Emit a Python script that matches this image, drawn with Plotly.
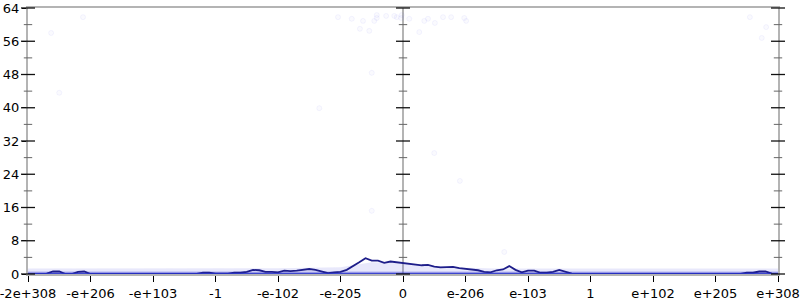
import plotly.graph_objects as go

# ---- data ----
tick_vals = [-6, -5, -4, -3, -2, -1, 0, 1, 2, 3, 4, 5, 6]
tick_text = ["-2e+308", "-e+206", "-e+103", "-1", "-e-102", "-e-205", "0",
             "e-206", "e-103", "1", "e+102", "e+205", "e+308"]

# summary line, sampled every 0.1 axis unit from -6 to 6
line_x = [round(-6 + 0.1 * i, 1) for i in range(121)]
line_y = [
    0, 0, 0, 0.1, 0.6, 0.6, 0, 0, 0.5, 0.6,          # -6.0 .. -5.1
    0, 0, 0, 0, 0, 0, 0, 0, 0, 0,                    # -5.0 .. -4.1
    0, 0, 0, 0, 0, 0, 0, 0, 0.3, 0.3,                # -4.0 .. -3.1
    0.1, 0.1, 0.1, 0.3, 0.3, 0.5, 1.0, 0.9, 0.5, 0.5,  # -3.0 .. -2.1
    0.4, 0.8, 0.7, 0.8, 1.0, 1.2, 1.0, 0.6, 0.2, 0.4,  # -2.0 .. -1.1
    0.5, 1.0, 1.8, 2.8, 3.8, 3.2, 3.2, 2.7, 3.0, 2.8,  # -1.0 .. -0.1
    2.6, 2.4, 2.2, 2.1, 2.2, 1.8, 1.6, 1.6, 1.7, 1.4,  # 0.0 .. 0.9
    1.2, 1.1, 0.9, 0.5, 0.4, 0.9, 1.1, 1.9, 1.0, 0.4,  # 1.0 .. 1.9
    0.8, 0.8, 0.3, 0.3, 0.5, 1.0, 0.6, 0.1, 0, 0,      # 2.0 .. 2.9
    0, 0, 0, 0, 0, 0, 0, 0, 0, 0,                    # 3.0 .. 3.9
    0, 0, 0, 0, 0, 0, 0, 0, 0, 0,                    # 4.0 .. 4.9
    0, 0, 0, 0, 0, 0.3, 0.3, 0.6, 0.6, 0.1,          # 5.0 .. 5.9
    0,                                               # 6.0
]

# faint density band of the samples near zero (every 0.5 unit)
band_x = [-6, -5.5, -5, -4.5, -4, -3.5, -3, -2.5, -2, -1.5, -1, -0.5, 0,
          0.5, 1, 1.5, 2, 2.5, 3, 3.5, 4, 4.5, 5, 5.5, 6]
band_top = [1.3, 1.3, 1.3, 1.3, 1.3, 1.3, 1.3, 1.3, 1.4, 1.5, 1.6, 2.8, 2.6,
            2.0, 1.5, 1.3, 1.3, 1.3, 1.3, 1.3, 1.3, 1.3, 1.3, 1.3, 1.3]
band_core = [0.6] * 25

# sparse outlier samples
out_x = [-5.12, -5.63, -5.50, 5.55, 5.81, 5.74, -1.04, -0.82, -0.64, -0.46,
         -0.42, -0.42, -0.27, -0.14, -0.10, -0.02, -0.03, 0.10, 0.34, 0.40,
         0.51, 0.64, 0.77, 0.98, 1.01, -0.69, -0.54, 0.26, -0.50, 0.50,
         0.91, -1.34, -0.50, 1.62]
out_y = [61.8, 58.0, 43.6, 61.8, 59.4, 56.8, 61.8, 61.4, 60.9, 60.9,
         62.3, 61.6, 62.1, 62.1, 61.8, 62.3, 61.6, 61.4, 60.9, 61.4,
         60.4, 61.8, 61.8, 61.6, 60.9, 59.0, 58.5, 58.2, 48.4, 29.1,
         22.4, 39.9, 15.2, 5.3]

y_major = [0, 8, 16, 24, 32, 40, 48, 56, 64]
y_minor = [4, 12, 20, 28, 36, 44, 52, 60]
axis_pos = [-6, 0, 6]

AXIS_GREY = "#b4b4b4"
fig = go.Figure()

# density band
fig.add_trace(go.Scatter(x=band_x, y=band_top, mode="lines", line=dict(width=0),
                         fill="tozeroy", fillcolor="rgba(110,110,230,0.16)",
                         hoverinfo="skip"))
fig.add_trace(go.Scatter(x=band_x, y=band_core, mode="lines", line=dict(width=0),
                         fill="tozeroy", fillcolor="rgba(60,60,215,0.30)",
                         hoverinfo="skip"))

# outliers
fig.add_trace(go.Scatter(x=out_x, y=out_y, mode="markers",
                         marker=dict(size=5, color="rgba(120,120,235,0.035)",
                                     line=dict(color="rgba(120,120,235,0.07)", width=1)),
                         cliponaxis=False, hoverinfo="skip"))

# summary line
fig.add_trace(go.Scatter(x=line_x, y=line_y, mode="lines",
                         line=dict(color="#1e1e8a", width=1.8), hoverinfo="skip"))
# baseline emphasis (zero samples)
fig.add_trace(go.Scatter(x=[-6, 6], y=[0, 0], mode="lines",
                         line=dict(color="rgba(40,50,200,0.85)", width=2.5),
                         hoverinfo="skip"))

# crossing tick marks on the three vertical axes
maj_x = [a for a in axis_pos for _ in y_major]
maj_y = [v for _ in axis_pos for v in y_major]
min_x = [a for a in axis_pos for _ in y_minor]
min_y = [v for _ in axis_pos for v in y_minor]
fig.add_trace(go.Scatter(x=maj_x, y=maj_y, mode="markers", cliponaxis=False,
                         marker=dict(symbol="line-ew", size=10,
                                     line=dict(color="#111", width=1.3)),
                         hoverinfo="skip"))
fig.add_trace(go.Scatter(x=min_x, y=min_y, mode="markers", cliponaxis=False,
                         marker=dict(symbol="line-ew", size=6,
                                     line=dict(color="#666", width=1)),
                         hoverinfo="skip"))

fig.update_layout(
    width=800, height=300,
    margin=dict(l=28, r=22, t=8, b=26),
    paper_bgcolor="white", plot_bgcolor="white",
    showlegend=False,
    font=dict(family="DejaVu Sans", size=13, color="#000"),
    xaxis=dict(range=[-6, 6], tickvals=tick_vals, ticktext=tick_text,
               showgrid=False, zeroline=True, zerolinecolor=AXIS_GREY,
               zerolinewidth=2, showline=True, linecolor=AXIS_GREY, linewidth=2,
               mirror=True, ticks="outside", ticklen=6, tickcolor="#000",
               tickwidth=1.2, layer="below traces", fixedrange=True,
               automargin=False, ticklabeloverflow="allow"),
    yaxis=dict(range=[0, 64], tickvals=y_major, showgrid=False, zeroline=False,
               showline=True, linecolor=AXIS_GREY, linewidth=2, mirror=True,
               ticks="outside", ticklen=4, tickcolor="#000", tickwidth=1.2,
               layer="below traces", fixedrange=True, automargin=False,
               ticklabeloverflow="allow"),
)

fig.write_html("out.html")
